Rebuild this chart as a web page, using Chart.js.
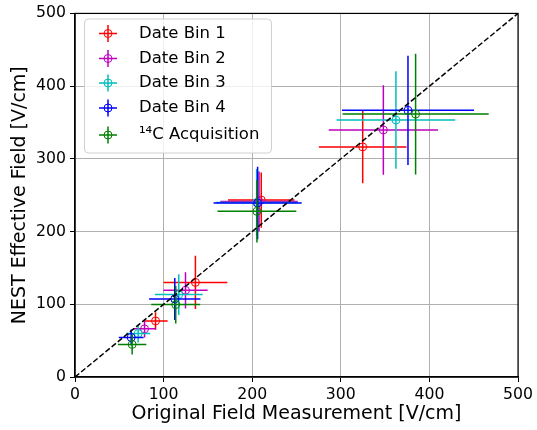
<!DOCTYPE html>
<html><head><meta charset="utf-8">
<script src="https://cdn.jsdelivr.net/npm/chart.js@4/dist/chart.umd.min.js"></script>
<style>html,body{margin:0;padding:0;background:#fff}#wrap{width:537px;height:430px}</style>
</head><body><div id="wrap"><canvas id="c" width="537" height="430"></canvas></div>
<script>
const seriesNames = ["Date Bin 1", "Date Bin 2", "Date Bin 3", "Date Bin 4", "¹⁴C Acquisition"];
const seriesColors = ["#ff0000", "#bf00bf", "#00bfbf", "#0000ff", "#008000"];

const bin1X = [90.9, 135.9, 210.2, 324.7];
const bin1Y = [77.1, 130.1, 243.4, 316.4];
const bin1XErr = [13.7, 36, 37.5, 49.5];
const bin1YErr = [12, 36.5, 38, 50];

const bin2X = [78.5, 124.7, 207.7, 348.0];
const bin2Y = [66.2, 119.2, 241.5, 339.7];
const bin2XErr = [12.8, 25, 43.7, 61.7];
const bin2YErr = [12, 25, 41, 61.6];

const bin3X = [71.3, 117.1, 205.0, 362.2];
const bin3Y = [59.8, 113.3, 240.0, 353.4];
const bin3XErr = [13.5, 27, 46, 67];
const bin3YErr = [12.5, 28, 46, 67];

const bin4X = [63.4, 112.6, 206.1, 375.8];
const bin4Y = [54.4, 107.3, 239.3, 366.7];
const bin4XErr = [14, 29, 49.7, 74.5];
const bin4YErr = [11, 29, 50, 75];

const c14X = [64.5, 113.7, 205.3, 384.4];
const c14Y = [44.8, 99.6, 227.8, 361.6];
const c14XErr = [16, 27.6, 44.5, 82.5];
const c14YErr = [14, 26, 43, 83];

const diagX = [0, 500];
const diagY = [0, 500];
const tickValues = [0, 100, 200, 300, 400, 500];

const allX = [bin1X, bin2X, bin3X, bin4X, c14X];
const allY = [bin1Y, bin2Y, bin3Y, bin4Y, c14Y];
const allXErr = [bin1XErr, bin2XErr, bin3XErr, bin4XErr, c14XErr];
const allYErr = [bin1YErr, bin2YErr, bin3YErr, bin4YErr, c14YErr];

const FONT = "'DejaVu Sans', sans-serif";

const datasets = seriesNames.map((name, i) => ({
  type: 'scatter',
  label: name,
  data: allX[i].map((x, j) => ({x: x, y: allY[i][j]})),
  errX: allXErr[i],
  errY: allYErr[i],
  borderColor: seriesColors[i],
  backgroundColor: 'rgba(0,0,0,0)',
  pointRadius: 4,
  pointHoverRadius: 4,
  pointBorderWidth: 1,
  showLine: false,
  order: 10 - i
}));
datasets.push({
  type: 'line',
  label: 'diag',
  data: diagX.map((x, j) => ({x: x, y: diagY[j]})),
  borderColor: '#000',
  borderWidth: 1.5,
  borderDash: [5.5, 2.4],
  pointRadius: 0,
  fill: false,
  order: 0
});

const errorBars = {
  id: 'errorBars',
  beforeDatasetDraw(chart, args) {
    const ds = chart.data.datasets[args.index];
    if (!ds.errX) return;
    const xs = chart.scales.x, ys = chart.scales.y, ctx = chart.ctx;
    ctx.save();
    ctx.strokeStyle = ds.borderColor;
    ctx.lineWidth = 1.5;
    ds.data.forEach((p, j) => {
      const px = xs.getPixelForValue(p.x), py = ys.getPixelForValue(p.y);
      ctx.beginPath();
      ctx.moveTo(xs.getPixelForValue(p.x - ds.errX[j]), py);
      ctx.lineTo(xs.getPixelForValue(p.x + ds.errX[j]), py);
      ctx.moveTo(px, ys.getPixelForValue(p.y - ds.errY[j]));
      ctx.lineTo(px, ys.getPixelForValue(p.y + ds.errY[j]));
      ctx.stroke();
    });
    ctx.restore();
  }
};

const frameAndLegend = {
  id: 'frameAndLegend',
  afterDraw(chart) {
    const ctx = chart.ctx, a = chart.chartArea;
    ctx.save();
    ctx.strokeStyle = '#000';
    ctx.lineWidth = 1.2;
    ctx.strokeRect(a.left, a.top, a.right - a.left, a.bottom - a.top);
    // legend box
    const bx = 84.5, by = 19, bw = 187, bh = 134, r = 4;
    ctx.beginPath();
    ctx.moveTo(bx + r, by);
    ctx.lineTo(bx + bw - r, by); ctx.arcTo(bx + bw, by, bx + bw, by + r, r);
    ctx.lineTo(bx + bw, by + bh - r); ctx.arcTo(bx + bw, by + bh, bx + bw - r, by + bh, r);
    ctx.lineTo(bx + r, by + bh); ctx.arcTo(bx, by + bh, bx, by + bh - r, r);
    ctx.lineTo(bx, by + r); ctx.arcTo(bx, by, bx + r, by, r);
    ctx.closePath();
    ctx.fillStyle = 'rgba(255,255,255,0.8)';
    ctx.fill();
    ctx.strokeStyle = '#d0d0d0';
    ctx.lineWidth = 1;
    ctx.stroke();
    const rows = [33.5, 58.5, 83, 108, 135];
    seriesNames.forEach((name, i) => {
      const cy = rows[i], cx = 108;
      ctx.strokeStyle = seriesColors[i];
      ctx.lineWidth = 1.5;
      ctx.beginPath();
      ctx.moveTo(cx - 9, cy); ctx.lineTo(cx + 9, cy);
      ctx.moveTo(cx, cy - 8.5); ctx.lineTo(cx, cy + 8.5);
      ctx.stroke();
      ctx.lineWidth = 1;
      ctx.beginPath();
      ctx.arc(cx, cy, 4, 0, Math.PI * 2);
      ctx.stroke();
      ctx.fillStyle = '#000';
      ctx.font = '16.5px ' + FONT;
      ctx.textBaseline = 'middle';
      ctx.textAlign = 'left';
      ctx.fillText(name, 139, cy);
    });
    ctx.restore();
  }
};

const axisCommon = {
  type: 'linear',
  min: 0, max: 500,
  afterBuildTicks(s) { s.ticks = tickValues.map(v => ({value: v})); },
  grid: {color: '#b0b0b0', lineWidth: 1, tickLength: 5, tickColor: '#000', tickWidth: 1},
  border: {color: '#000', width: 1.2},
};

new Chart(document.getElementById('c'), {
  data: {datasets: datasets},
  options: {
    responsive: false,
    devicePixelRatio: 1,
    animation: false,
    layout: {padding: {top: 10, right: 18, left: 0, bottom: 0}},
    plugins: {legend: {display: false}, tooltip: {enabled: false}},
    scales: {
      x: Object.assign({}, axisCommon, {
        position: 'bottom',
        ticks: {font: {family: FONT, size: 15.7}, color: '#000', padding: 4, maxRotation: 0},
        title: {display: true, text: 'Original Field Measurement [V/cm]', font: {family: FONT, size: 19}, color: '#000', padding: {top: 0, bottom: 4.5}},
        afterFit(s) { s.height = 53; }
      }),
      y: Object.assign({}, axisCommon, {
        position: 'left',
        ticks: {font: {family: FONT, size: 15.7}, color: '#000', padding: 4},
        title: {display: true, text: 'NEST Effective Field [V/cm]', font: {family: FONT, size: 19}, color: '#000', padding: {top: 8.5, bottom: 0}},
        afterFit(s) { s.width = 75; }
      })
    }
  },
  plugins: [errorBars, frameAndLegend]
});
</script></body></html>
